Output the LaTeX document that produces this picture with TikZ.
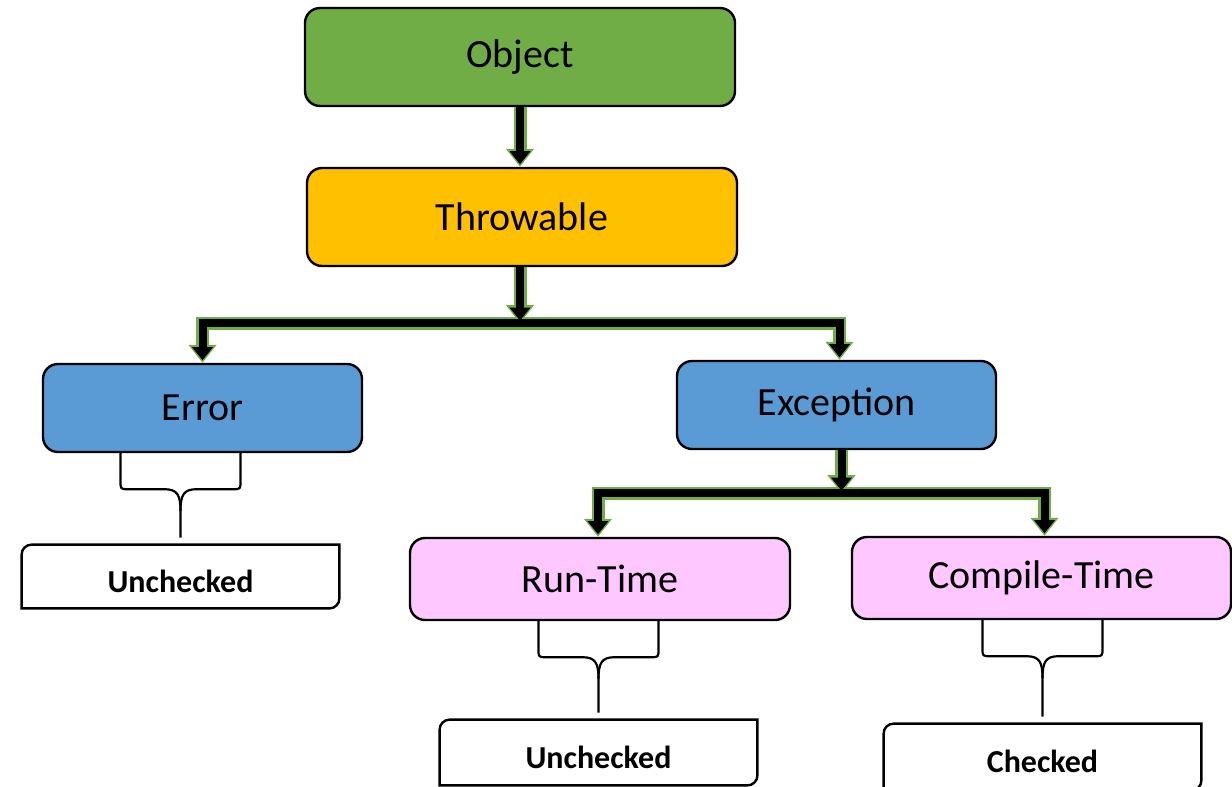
\documentclass[tikz,border=0pt]{standalone}
\usepackage{fontspec}
\setmainfont{Carlito}
\usetikzlibrary{calc,arrows.meta}
\begin{document}
\begin{tikzpicture}[x=0.5pt,y=-0.5pt]
        %%颜色
        \definecolor{object_color}{RGB}{112,173,71}
        \definecolor{throw_color}{RGB}{255,192,0}
        \definecolor{blue_color}{RGB}{91,155,213}
        \definecolor{pink_color}{RGB}{255,199,255}
        \definecolor{rim_color}{RGB}{112,173,71}
        \tikzset{box/.style = {draw=black, line width=1.2pt, rounded corners=7.5pt, inner sep=0pt, font=\fontsize{20}{24}\selectfont}}
        \tikzset{leaf/.style = {inner sep=0pt, text height=15.5pt, text depth=0pt, font=\bfseries\fontsize{16}{19}\selectfont}}
        \tikzset{leafline/.style = {draw=black, line width=1.2pt}}
        \tikzset{bracket/.style = {draw=black, line width=1.1pt, line join=round}}
        \tikzset{rim/.style = {draw=rim_color, line width=6.5pt, -{Triangle[width=13.5pt,length=9pt]}}}
        \tikzset{core/.style = {draw=black, line width=4pt, shorten >=1.3pt, -{Triangle[width=10pt,length=6.5pt]}}}

        \useasboundingbox (0,0) rectangle (1232,787);

        %%方框
        \node[box, fill=object_color, minimum width=215pt, minimum height=49pt] (obj) at (520,57) {Object};
        \node[box, fill=throw_color, minimum width=215pt, minimum height=49pt] (thr) at (522,217) {Throwable};
        \node[box, fill=blue_color, minimum width=159.5pt, minimum height=44pt] (err) at (202.5,408) {Error};
        \node[box, fill=blue_color, minimum width=159.5pt, minimum height=44pt] (exc) at (836.5,405) {Exception};
        \node[box, fill=pink_color, minimum width=190pt, minimum height=41pt] (run) at (600,579) {Run-Time};
        \node[box, fill=pink_color, minimum width=189.5pt, minimum height=41pt] (comp) at (1041.5,578) {Compile-Time};
        \node[leaf, minimum width=158.5pt, minimum height=31.5pt] (unA) at (180.5,576.5) {Unchecked};
        \node[leaf, minimum width=158.5pt, minimum height=32.5pt] (unB) at (598.5,752.5) {Unchecked};
        \node[leaf, minimum width=158.5pt, minimum height=33pt] (chk) at (1042.5,757) {Checked};

        %%叶子框 (左上与右下圆角)
        \foreach \n in {unA,unB,chk}
            \draw[leafline] (\n.south west) -- ([yshift=-5pt]\n.north west) arc[start angle=180,end angle=90,radius=5pt]
                -- (\n.north east) -- ([yshift=5pt]\n.south east) arc[start angle=0,end angle=-90,radius=5pt] -- cycle;

        %%分叉点
        \coordinate (tsplit) at ($(thr.south)+(-2,56)$);
        \coordinate (esplit) at ($(exc.south)+(5,43)$);

        %%箭头: 先画绿边, 再画黑芯
        \foreach \layer in {rim,core}{
            \draw[\layer] (obj.south) -- (obj.south |- thr.north);
            \draw[\layer] (thr.south -| tsplit) -- (tsplit);
            \draw[\layer] (tsplit) -| (err.north);
            \draw[\layer] (tsplit) -| ($(exc.north)+(3,0)$);
            \draw[\layer] (exc.south -| esplit) -- (esplit);
            \draw[\layer] (esplit) -| ($(run.north)+(-2,0)$);
            \draw[\layer] (esplit) -| ($(comp.north)+(3,0)$);
        }

        %%花括号
        \foreach \up/\low in {err/unA, run/unB, comp/chk}{
            \coordinate (top) at (\up.south -| \low.north);
            \draw[bracket] ($(top)+(-60,0)$) -- ($(top)+(-60,28)$) .. controls ($(top)+(-60,36)$) .. ($(top)+(-52,36)$)
                -- ($(top)+(-16,36)$) .. controls ($(top)+(-3,36)$) and ($(top)+(0,42)$) .. ($(top)+(0,58)$)
                -- ($(\low.north)+(0,-7)$);
            \draw[bracket] ($(top)+(60,0)$) -- ($(top)+(60,28)$) .. controls ($(top)+(60,36)$) .. ($(top)+(52,36)$)
                -- ($(top)+(16,36)$) .. controls ($(top)+(3,36)$) and ($(top)+(0,42)$) .. ($(top)+(0,58)$);
        }

\end{tikzpicture}
\end{document}
